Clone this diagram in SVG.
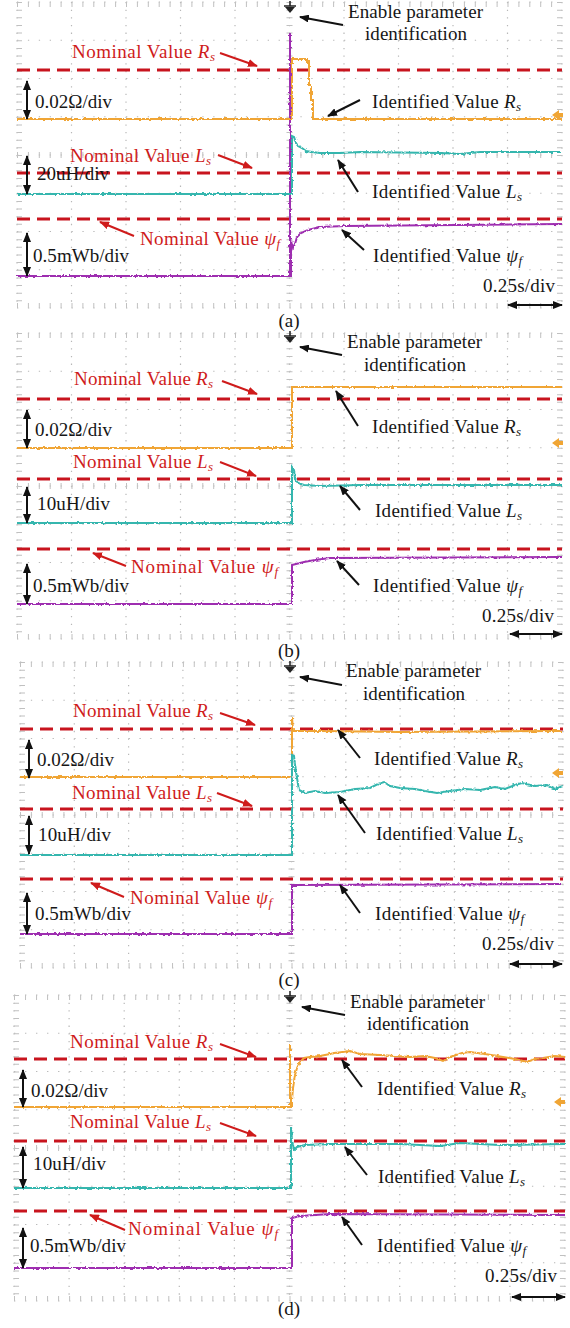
<svg xmlns="http://www.w3.org/2000/svg" xmlns:xlink="http://www.w3.org/1999/xlink" width="570" height="1328" viewBox="0 0 570 1328">
<style>
.t{font-family:"Liberation Serif","Times New Roman",serif;font-size:19px;fill:#161616}
.r{fill:#CF1B1B}
.i{font-style:italic}
.sb{font-style:italic;font-size:13px}
.gv{stroke:#b8b8b8;stroke-width:1.2;stroke-dasharray:1.3 6.35;fill:none}
.gh{stroke:#b8b8b8;stroke-width:1.2;stroke-dasharray:1.3 9.6;fill:none}
.tk{stroke:#c0c0c0;fill:none}
.nom{stroke:#C8141E;stroke-width:3;stroke-dasharray:13 7;fill:none}
.or{stroke:#F0A534;stroke-width:2;fill:none}
.cy{stroke:#35B6AE;stroke-width:2;fill:none}
.mg{stroke:#9E2FB0;stroke-width:2;fill:none}
.ab{stroke:#111;stroke-width:2;fill:none;marker-end:url(#ah)}
.ar{stroke:#CF1B1B;stroke-width:2;fill:none;marker-end:url(#ahr)}
.dv{stroke:#111;stroke-width:2;fill:none;marker-start:url(#ah);marker-end:url(#ah)}
</style>
<defs>
<marker id="ah" viewBox="0 0 10 8" refX="9" refY="4" markerWidth="10" markerHeight="8" markerUnits="userSpaceOnUse" orient="auto-start-reverse"><path d="M0,0 L10,4 L0,8 Z" fill="#111"/></marker>
<marker id="ahr" viewBox="0 0 10 8" refX="9" refY="4" markerWidth="10" markerHeight="8" markerUnits="userSpaceOnUse" orient="auto-start-reverse"><path d="M0,0 L10,4 L0,8 Z" fill="#CF1B1B"/></marker>
<filter id="jit" filterUnits="userSpaceOnUse" x="0" y="0" width="570" height="1328">
<feTurbulence type="fractalNoise" baseFrequency="0.35" numOctaves="2" seed="3" result="n"/>
<feDisplacementMap in="SourceGraphic" in2="n" scale="3" xChannelSelector="R" yChannelSelector="G"/>
</filter>
<g id="grid">
<path class="gv" d="M0,0V306M54.5,0V306M109,0V306M163.5,0V306M218,0V306M272.5,0V306M327,0V306M381.5,0V306M436,0V306M490.5,0V306M545,0V306"/>
<path class="gh" d="M0,0H545M0,38.25H545M0,76.5H545M0,114.75H545M0,153H545M0,191.25H545M0,229.5H545M0,267.75H545M0,306H545"/>
<path class="tk" stroke-width="6" stroke-dasharray="1 6.65" d="M272.5,0V306"/>
<path class="tk" stroke-width="5" stroke-dasharray="1 6.65" d="M2.5,0V306M542.5,0V306"/>
<path class="tk" stroke-width="6" stroke-dasharray="1 9.9" d="M0,153H545"/>
<path class="tk" stroke-width="5" stroke-dasharray="1 9.9" d="M0,2.5H545M0,303.5H545"/>
</g>
<g id="trig"><path d="M-6,-1H6M0,-6V-1" stroke="#222" stroke-width="1.5"/><path d="M-5,0H5L0,6Z" fill="#222"/></g>
<path id="gnd" d="M0,0 L7,-5 V-2 H11 V2 H7 V5 Z" fill="#F0A534"/>
</defs>
<rect width="570" height="1328" fill="#fff"/>

<!-- ================= (a) ================= -->
<g id="panel-a">
<use xlink:href="#grid" transform="translate(17,2)"/>
<use xlink:href="#trig" x="290" y="7"/>
<use xlink:href="#gnd" x="552" y="115"/>
<g id="a-nominal-lines">
<path class="nom" d="M17,70H562M17,173H562M17,219H562"/>
</g>
<g id="a-traces" filter="url(#jit)">
<path class="mg" stroke-width="1.5" d="M290,33V276"/>
<path class="or" d="M17,119H292V59H307V62H309V85H311V100H313V119H562"/>
<path class="cy" d="M17,194H292V136L294,137L296,143L298,146L302,148L306,151L312,152L320,153L340,153L360,152L440,153L460,154L480,152L562,152"/>
<path class="mg" d="M17,276H291V240L293,248L295,244L297,237L301,233L308,230L320,227L345,226L562,224"/>
</g>
<g id="a-labels">
<text class="t" x="348" y="18" textLength="135">Enable parameter</text>
<text class="t" x="365" y="40" textLength="102">identification</text>
<text class="t r" x="72" y="58" textLength="143">Nominal Value <tspan class="i">R</tspan><tspan class="sb" dy="3">s</tspan></text>
<text class="t" x="35" y="108" textLength="77">0.02Ω/div</text>
<text class="t" x="372" y="108" textLength="149">Identified Value <tspan class="i">R</tspan><tspan class="sb" dy="3">s</tspan></text>
<text class="t r" x="70" y="162" textLength="141">Nominal Value <tspan class="i">L</tspan><tspan class="sb" dy="3">s</tspan></text>
<text class="t" x="37" y="180" textLength="72">20uH/div</text>
<text class="t" x="372" y="198" textLength="150">Identified Value <tspan class="i">L</tspan><tspan class="sb" dy="3">s</tspan></text>
<text class="t r" x="140" y="245" textLength="140">Nominal Value <tspan class="i">ψ</tspan><tspan class="sb" dy="3">f</tspan></text>
<text class="t" x="33" y="262" textLength="96">0.5mWb/div</text>
<text class="t" x="373" y="262" textLength="149">Identified Value <tspan class="i">ψ</tspan><tspan class="sb" dy="3">f</tspan></text>
<text class="t" x="483" y="292" textLength="72">0.25s/div</text>
<text class="t" x="289" y="327" text-anchor="middle">(a)</text>
</g>
<g id="a-connectors">
<path class="ab" d="M343,25L300,17"/>
<path class="ar" d="M220,53L257,66"/>
<path class="ab" d="M360,100L328,116"/>
<path class="ar" d="M218,155L252,168"/>
<path class="ab" d="M358,192L338,160"/>
<path class="ar" d="M134,236L100,222"/>
<path class="ab" d="M364,250L342,230"/>
<path class="dv" d="M27,81V119"/>
<path class="dv" d="M27,156V194"/>
<path class="dv" d="M27,233V276"/>
<path class="dv" d="M508,305H562"/>
</g>
</g>

<!-- ================= (b) ================= -->
<g id="panel-b">
<use xlink:href="#grid" transform="translate(17,333)"/>
<use xlink:href="#trig" x="290" y="337"/>
<use xlink:href="#gnd" x="552" y="443"/>
<g id="b-nominal-lines">
<path class="nom" d="M17,399H562M17,479H562M17,549H562"/>
</g>
<g id="b-traces" filter="url(#jit)">
<path class="or" d="M17,448H292V387H562"/>
<path class="cy" d="M17,523H292V467L294,470L295,479L298,483L304,485L320,486L360,485L562,485"/>
<path class="mg" d="M17,604H292V565L296,564L304,562L315,560L330,558L562,557"/>
</g>
<g id="b-labels">
<text class="t" x="347" y="348" textLength="135">Enable parameter</text>
<text class="t" x="364" y="371" textLength="102">identification</text>
<text class="t r" x="74" y="385" textLength="139">Nominal Value <tspan class="i">R</tspan><tspan class="sb" dy="3">s</tspan></text>
<text class="t" x="35" y="436" textLength="77">0.02Ω/div</text>
<text class="t" x="372" y="433" textLength="149">Identified Value <tspan class="i">R</tspan><tspan class="sb" dy="3">s</tspan></text>
<text class="t r" x="73" y="468" textLength="140">Nominal Value <tspan class="i">L</tspan><tspan class="sb" dy="3">s</tspan></text>
<text class="t" x="37" y="510" textLength="73">10uH/div</text>
<text class="t" x="375" y="517" textLength="147">Identified Value <tspan class="i">L</tspan><tspan class="sb" dy="3">s</tspan></text>
<text class="t r" x="131" y="573" textLength="147">Nominal Value <tspan class="i">ψ</tspan><tspan class="sb" dy="3">f</tspan></text>
<text class="t" x="33" y="592" textLength="96">0.5mWb/div</text>
<text class="t" x="373" y="592" textLength="149">Identified Value <tspan class="i">ψ</tspan><tspan class="sb" dy="3">f</tspan></text>
<text class="t" x="482" y="622" textLength="72">0.25s/div</text>
<text class="t" x="289" y="657" text-anchor="middle">(b)</text>
</g>
<g id="b-connectors">
<path class="ab" d="M342,355L300,347"/>
<path class="ar" d="M222,381L257,394"/>
<path class="ab" d="M358,426L336,391"/>
<path class="ar" d="M220,462L256,476"/>
<path class="ab" d="M360,510L340,486"/>
<path class="ar" d="M126,566L93,553"/>
<path class="ab" d="M359,585L337,561"/>
<path class="dv" d="M27,410V448"/>
<path class="dv" d="M27,487V523"/>
<path class="dv" d="M27,564V604"/>
<path class="dv" d="M510,634H562"/>
</g>
</g>

<!-- ================= (c) ================= -->
<g id="panel-c">
<use xlink:href="#grid" transform="translate(20,662) scale(0.9963,1)"/>
<use xlink:href="#trig" x="290" y="667"/>
<use xlink:href="#gnd" x="552" y="773"/>
<g id="c-nominal-lines">
<path class="nom" d="M20,729H563M20,809H563M20,879H563"/>
</g>
<g id="c-traces" filter="url(#jit)">
<path class="or" d="M20,777H292V717L293,731L320,731L400,732L562,731"/>
<path class="cy" d="M20,855H292V755L294,756L295,765L297,778L299,790L305,793L315,791L325,793L340,792L355,789L370,788L378,784L384,782L390,786L400,788L415,789L425,791L437,793L450,791L465,789L480,790L495,787L505,789L515,785L522,783L535,786L547,785L555,789L563,786"/>
<path class="mg" d="M20,934H292V885L562,884"/>
</g>
<g id="c-labels">
<text class="t" x="346" y="677" textLength="135">Enable parameter</text>
<text class="t" x="363" y="700" textLength="102">identification</text>
<text class="t r" x="73" y="717" textLength="140">Nominal Value <tspan class="i">R</tspan><tspan class="sb" dy="3">s</tspan></text>
<text class="t" x="37" y="766" textLength="77">0.02Ω/div</text>
<text class="t" x="374" y="765" textLength="149">Identified Value <tspan class="i">R</tspan><tspan class="sb" dy="3">s</tspan></text>
<text class="t r" x="72" y="799" textLength="140">Nominal Value <tspan class="i">L</tspan><tspan class="sb" dy="3">s</tspan></text>
<text class="t" x="38" y="841" textLength="73">10uH/div</text>
<text class="t" x="376" y="840" textLength="147">Identified Value <tspan class="i">L</tspan><tspan class="sb" dy="3">s</tspan></text>
<text class="t r" x="130" y="904" textLength="142">Nominal Value <tspan class="i">ψ</tspan><tspan class="sb" dy="3">f</tspan></text>
<text class="t" x="35" y="920" textLength="96">0.5mWb/div</text>
<text class="t" x="375" y="920" textLength="149">Identified Value <tspan class="i">ψ</tspan><tspan class="sb" dy="3">f</tspan></text>
<text class="t" x="482" y="950" textLength="72">0.25s/div</text>
<text class="t" x="289" y="986" text-anchor="middle">(c)</text>
</g>
<g id="c-connectors">
<path class="ab" d="M342,685L300,677"/>
<path class="ar" d="M220,713L255,725"/>
<path class="ab" d="M360,758L338,730"/>
<path class="ar" d="M217,793L252,806"/>
<path class="ab" d="M365,833L338,795"/>
<path class="ar" d="M124,897L91,883"/>
<path class="ab" d="M360,913L340,885"/>
<path class="dv" d="M29,740V778"/>
<path class="dv" d="M29,816V854"/>
<path class="dv" d="M27,893V934"/>
<path class="dv" d="M510,964H562"/>
</g>
</g>

<!-- ================= (d) ================= -->
<g id="panel-d">
<use xlink:href="#grid" transform="translate(14,995) scale(1.011,1)"/>
<use xlink:href="#trig" x="290" y="997"/>
<use xlink:href="#gnd" x="554" y="1102"/>
<g id="d-nominal-lines">
<path class="nom" d="M14,1059H565M14,1141H565M14,1211H565"/>
</g>
<g id="d-traces" filter="url(#jit)">
<path class="or" stroke-width="1.5" d="M290,1045V1107"/>
<path class="or" d="M14,1107H292V1100L293,1088L295,1075L297,1068L300,1062L304,1058L310,1057L320,1056L335,1053L350,1051L360,1054L380,1055L410,1057L425,1056L435,1058L443,1061L450,1057L462,1053L470,1052L485,1054L503,1057L515,1059L527,1062L535,1059L543,1058L555,1056L565,1057"/>
<path class="cy" d="M14,1188H291V1127L292,1140L294,1150L297,1147L305,1145L330,1144L400,1144L440,1146L460,1143L500,1145L565,1144"/>
<path class="mg" d="M14,1268H292V1218L300,1216L330,1214L565,1215"/>
</g>
<g id="d-labels">
<text class="t" x="350" y="1008" textLength="135">Enable parameter</text>
<text class="t" x="367" y="1030" textLength="102">identification</text>
<text class="t r" x="70" y="1048" textLength="143">Nominal Value <tspan class="i">R</tspan><tspan class="sb" dy="3">s</tspan></text>
<text class="t" x="31" y="1097" textLength="77">0.02Ω/div</text>
<text class="t" x="377" y="1095" textLength="149">Identified Value <tspan class="i">R</tspan><tspan class="sb" dy="3">s</tspan></text>
<text class="t r" x="70" y="1128" textLength="141">Nominal Value <tspan class="i">L</tspan><tspan class="sb" dy="3">s</tspan></text>
<text class="t" x="33" y="1170" textLength="73">10uH/div</text>
<text class="t" x="378" y="1183" textLength="147">Identified Value <tspan class="i">L</tspan><tspan class="sb" dy="3">s</tspan></text>
<text class="t r" x="128" y="1235" textLength="150">Nominal Value <tspan class="i">ψ</tspan><tspan class="sb" dy="3">f</tspan></text>
<text class="t" x="30" y="1252" textLength="96">0.5mWb/div</text>
<text class="t" x="377" y="1252" textLength="149">Identified Value <tspan class="i">ψ</tspan><tspan class="sb" dy="3">f</tspan></text>
<text class="t" x="485" y="1282" textLength="72">0.25s/div</text>
<text class="t" x="289" y="1315" text-anchor="middle">(d)</text>
</g>
<g id="d-connectors">
<path class="ab" d="M345,1015L302,1007"/>
<path class="ar" d="M220,1044L256,1057"/>
<path class="ab" d="M362,1087L342,1060"/>
<path class="ar" d="M220,1123L256,1136"/>
<path class="ab" d="M367,1175L345,1147"/>
<path class="ar" d="M125,1230L90,1215"/>
<path class="ab" d="M362,1245L342,1217"/>
<path class="dv" d="M23,1070V1107"/>
<path class="dv" d="M23,1147V1188"/>
<path class="dv" d="M23,1228V1268"/>
<path class="dv" d="M512,1297H565"/>
</g>
</g>
</svg>
